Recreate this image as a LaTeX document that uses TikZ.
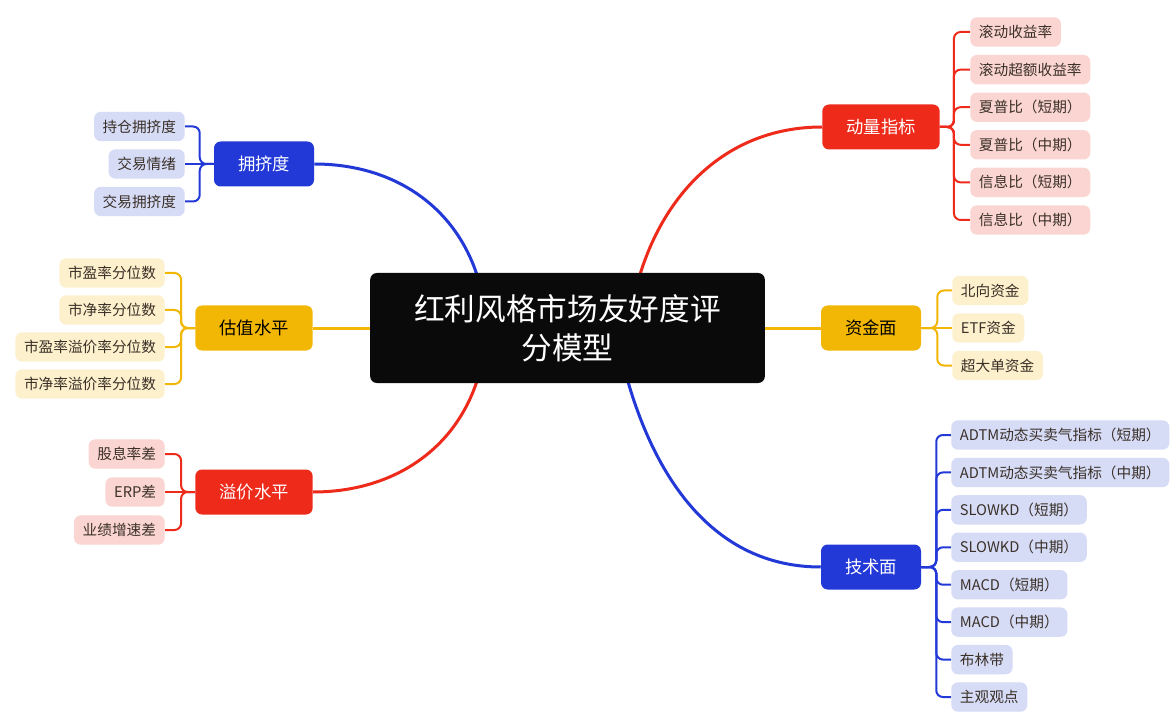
\documentclass[tikz,border=0pt]{standalone}
\usepackage{fontspec}
\setmainfont{Noto Sans CJK SC}
\usetikzlibrary{backgrounds}
\definecolor{hred}{HTML}{EE2A1B}
\definecolor{hblue}{HTML}{2239D8}
\definecolor{hgold}{HTML}{F2B705}
\definecolor{pinkfill}{HTML}{FBD5D1}
\definecolor{bluefill}{HTML}{D6DBF6}
\definecolor{goldfill}{HTML}{FDF0CC}
\definecolor{leaftext}{HTML}{3A3028}
\tikzset{
  rootbox/.style={fill=black!96,rounded corners=5pt,text=white,font=\fontsize{23}{29}\selectfont,align=center,minimum width=296pt,minimum height=82.5pt},
  topicbox/.style={rounded corners=5pt,font=\fontsize{13}{15}\selectfont,minimum height=33.75pt,inner xsep=18pt},
  leafbox/.style={rounded corners=5pt,font=\fontsize{11}{13}\selectfont,minimum height=22pt,inner xsep=6.5pt,text=leaftext},
  trunk/.style={line width=2.25pt},
  twig/.style={line width=1.5pt,rounded corners=5pt}
}

\begin{document}
\begin{tikzpicture}[x=0.75pt,y=-0.75pt]
  \useasboundingbox (0,0) rectangle (1173,723);

  % centre and main topics
  \node[rootbox] (root) at (567.5,328) {红利风格市场友好度评\\分模型};
  \node[topicbox,fill=hred,text=white] (dl) at (881,127) {动量指标};
  \node[topicbox,fill=hgold] (zj) at (871,328) {资金面};
  \node[topicbox,fill=hblue,text=white] (js) at (871,567) {技术面};
  \node[topicbox,fill=hblue,text=white] (yj) at (264,164) {拥挤度};
  \node[topicbox,fill=hgold] (gz) at (254,328) {估值水平};
  \node[topicbox,fill=hred,text=white] (yx) at (254,492) {溢价水平};

  \coordinate (rdl) at (637,285);
  \coordinate (rjs) at (625,371);
  \coordinate (ryj) at (480,285);
  \coordinate (ryx) at (480,371);

  \begin{scope}[on background layer]
    \fill[white] (0,0) rectangle (1173,723);
    \draw[trunk,hred] (rdl) to[out=75,in=180] (dl.west);
    \draw[trunk,hblue] (rjs) to[out=-75,in=180] (js.west);
    \draw[trunk,hblue] (ryj) to[out=105,in=0] (yj.east);
    \draw[trunk,hred] (ryx) to[out=-105,in=0] (yx.east);
    \draw[trunk,hgold] (root.east) -- (zj.west);
    \draw[trunk,hgold] (gz.east) -- (root.west);
  \end{scope}

  % right side leaves
  \foreach \t [count=\i] in {滚动收益率,滚动超额收益率,夏普比（短期）,夏普比（中期）,信息比（短期）,信息比（中期）}{
    \node[leafbox,fill=pinkfill,anchor=west] (dl\i) at (970,{32+37.6*(\i-1)}) {\t};
    \begin{scope}[on background layer]
      \draw[twig,hred] (dl.east) -- ++(14,0) |- (dl\i.west);
    \end{scope}
  }
  \foreach \t [count=\i] in {北向资金,ETF资金,超大单资金}{
    \node[leafbox,fill=goldfill,anchor=west] (zj\i) at (952,{290.5+37.5*(\i-1)}) {\t};
    \begin{scope}[on background layer]
      \ifnum\i=2 \draw[twig,hgold] (zj.east) -- (zj\i.west);
      \else \draw[twig,hgold] (zj.east) -- ++(16,0) |- (zj\i.west); \fi
    \end{scope}
  }
  \foreach \t [count=\i] in {ADTM动态买卖气指标（短期）,ADTM动态买卖气指标（中期）,SLOWKD（短期）,SLOWKD（中期）,MACD（短期）,MACD（中期）,布林带,主观观点}{
    \node[leafbox,fill=bluefill,anchor=west] (js\i) at (951,{435+37.43*(\i-1)}) {\t};
    \begin{scope}[on background layer]
      \draw[twig,hblue] (js.east) -- ++(15,0) |- (js\i.west);
    \end{scope}
  }

  % left side leaves
  \foreach \t [count=\i] in {持仓拥挤度,交易情绪,交易拥挤度}{
    \node[leafbox,fill=bluefill,anchor=east] (yj\i) at (185,{126.5+37.5*(\i-1)}) {\t};
    \begin{scope}[on background layer]
      \ifnum\i=2 \draw[twig,hblue] (yj.west) -- (yj\i.east);
      \else \draw[twig,hblue] (yj.west) -- ++(-14,0) |- (yj\i.east); \fi
    \end{scope}
  }
  \foreach \t [count=\i] in {市盈率分位数,市净率分位数,市盈率溢价率分位数,市净率溢价率分位数}{
    \node[leafbox,fill=goldfill,anchor=east] (gz\i) at (165,{273+37*(\i-1)}) {\t};
    \begin{scope}[on background layer]
      \draw[twig,hgold] (gz.west) -- ++(-14,0) |- (gz\i.east);
    \end{scope}
  }
  \foreach \t [count=\i] in {股息率差,ERP差,业绩增速差}{
    \node[leafbox,fill=pinkfill,anchor=east] (yx\i) at (165,{454+38*(\i-1)}) {\t};
    \begin{scope}[on background layer]
      \ifnum\i=2 \draw[twig,hred] (yx.west) -- (yx\i.east);
      \else \draw[twig,hred] (yx.west) -- ++(-14,0) |- (yx\i.east); \fi
    \end{scope}
  }
\end{tikzpicture}
\end{document}
